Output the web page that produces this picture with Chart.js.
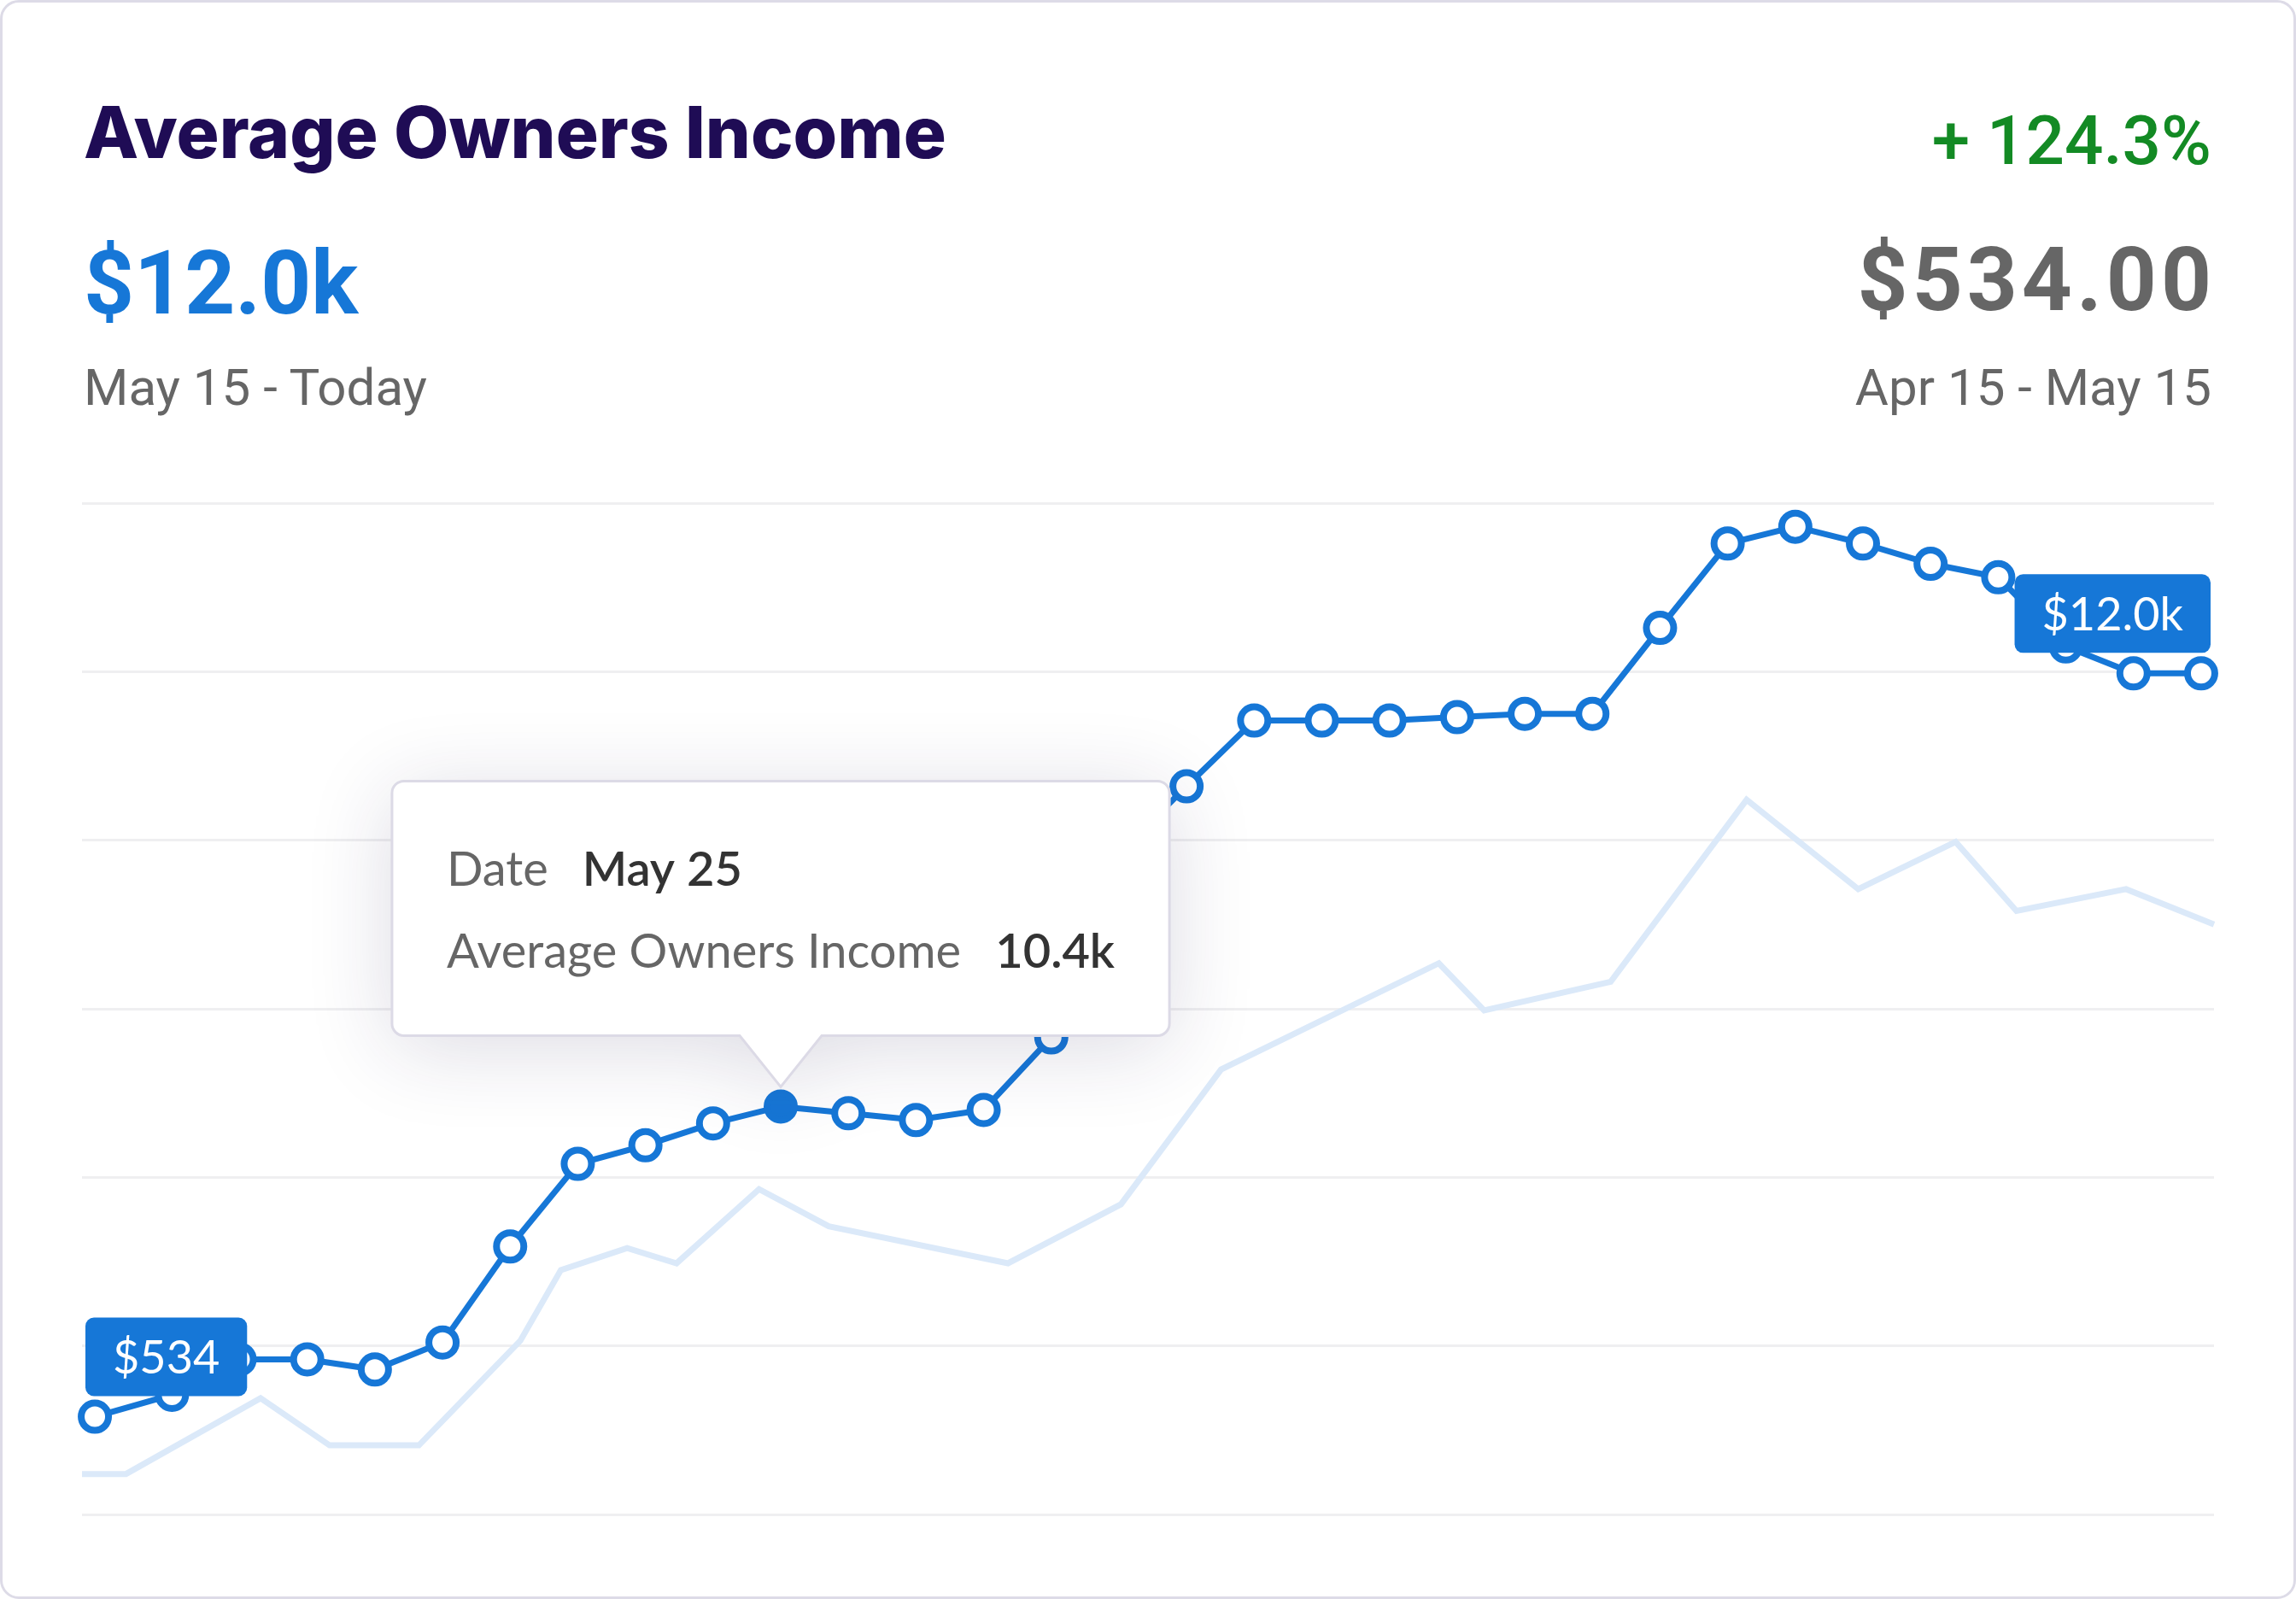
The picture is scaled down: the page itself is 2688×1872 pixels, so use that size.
<!DOCTYPE html>
<html>
<head>
<meta charset="utf-8">
<title>Average Owners Income</title>
<script src="https://cdn.jsdelivr.net/npm/chart.js@4.4.1/dist/chart.umd.min.js"></script>
<style>
  html, body { margin: 0; padding: 0; background: #fff; }
  body { width: 2688px; height: 1872px; position: relative; overflow: hidden; font-family: Roboto, sans-serif; }
  .card { position: absolute; left: 0; top: 0; width: 2688px; height: 1872px; box-sizing: border-box;
          border: 3px solid #dddbe7; border-radius: 22px; pointer-events: none; z-index: 3; }
  .chart-wrap { position: absolute; left: 0; top: 0; width: 2688px; height: 1872px; }
  .txt { position: absolute; line-height: 1; white-space: nowrap; z-index: 2; }
  .title { left: 98px; top: 113px; font-family: Inter, sans-serif; font-weight: 800; font-size: 83.5px; color: #1f0c55; }
  .change { right: 99px; top: 125px; font-weight: 500; font-size: 80px; color: #138a24; }
  .current { left: 98px; top: 280px; font-weight: 700; font-size: 103px; color: #1677d7; }
  .previous { right: 99px; top: 276px; font-weight: 700; font-size: 103px; color: #666666; letter-spacing: 5px; margin-right: -5px; }
  .range { top: 424px; font-weight: 400; font-size: 60px; color: #666666; }
  .range.left { left: 98px; }
  .range.right { right: 99px; }
</style>
</head>
<body>
<div class="card"></div>
<div class="txt title">Average Owners Income</div>
<div class="txt change">+ 124.3%</div>
<div class="txt current">$12.0k</div>
<div class="txt previous">$534.00</div>
<div class="txt range left">May 15 - Today</div>
<div class="txt range right">Apr 15 - May 15</div>
<div class="chart-wrap"><canvas id="incomeChart"></canvas></div>

<script>
// current period, one point per day
const days = [
    'May 15', 'May 16', 'May 17', 'May 18', 'May 19', 'May 20', 'May 21', 'May 22',
    'May 23', 'May 24', 'May 25', 'May 26', 'May 27', 'May 28', 'May 29', 'May 30',
    'May 31', 'Jun 1', 'Jun 2', 'Jun 3', 'Jun 4', 'Jun 5', 'Jun 6', 'Jun 7',
    'Jun 8', 'Jun 9', 'Jun 10', 'Jun 11', 'Jun 12', 'Jun 13', 'Jun 14', 'Jun 15'
];
// day position of each point (the first one sits a little early)
const dayPos = [
    -0.14, 1, 2, 3, 4, 5, 6, 7, 8, 9, 10, 11, 12, 13, 14, 15,
    16, 17, 18, 19, 20, 21, 22, 23, 24, 25, 26, 27, 28, 29, 30, 31
];
const incomeCurrent = [
    5.8, 7.1, 9.2, 9.2, 8.6, 10.2, 15.9, 20.8,
    21.9, 23.2, 24.2, 23.8, 23.4, 24.0, 28.3, 39.2,
    43.2, 47.1, 47.1, 47.1, 47.3, 47.5, 47.5, 52.6,
    57.6, 58.6, 57.6, 56.4, 55.6, 51.5, 49.9, 49.9
];

// previous period (Apr 15 - May 15), plotted on the same day axis
const prevPos = [
    -0.33, 0.32, 2.31, 3.33, 4.65, 6.15, 6.75, 7.73, 8.46, 9.68, 10.71, 13.36,
    15.03, 16.51, 19.73, 20.40, 22.27, 24.28, 25.93, 27.37, 28.27, 29.89, 31.19
];
const incomePrevious = [
    2.4, 2.4, 6.9, 4.1, 4.1, 10.3, 14.5, 15.8, 14.9, 19.3, 17.1, 14.9,
    18.4, 26.4, 32.7, 29.9, 31.6, 42.4, 37.1, 39.9, 35.8, 37.1, 35.0
];

const yTicks = [0, 10, 20, 30, 40, 50, 60];

const ACTIVE_INDEX = 10;
const tooltipRows = [['Date', days[ACTIVE_INDEX]], ['Average Owners Income', '10.4k']];
const startLabel = '$534';
const endLabel = '$12.0k';

const BLUE = '#1677d7';

// blue value boxes above first and last point
const endLabels = {
    id: 'endLabels',
    afterDatasetsDraw(chart) {
        const ctx = chart.ctx;
        const area = chart.chartArea;
        const pts = chart.getDatasetMeta(0).data;
        const items = [[pts[0], startLabel], [pts[pts.length - 1], endLabel]];
        ctx.save();
        ctx.font = '400 54px Lato';
        items.forEach(([p, text]) => {
            const w = ctx.measureText(text).width + 64;
            const h = 92;
            let x = p.x - w / 2;
            x = Math.max(area.left + 4, Math.min(area.right - 4 - w, x));
            const y = p.y - 24 - h;
            ctx.fillStyle = BLUE;
            ctx.beginPath();
            ctx.roundRect(x, y, w, h, 10);
            ctx.fill();
            ctx.fillStyle = '#ffffff';
            ctx.textAlign = 'center';
            ctx.textBaseline = 'middle';
            ctx.fillText(text, x + w / 2, y + h / 2 + 2);
        });
        ctx.restore();
    }
};

// fixed tooltip for the highlighted day
const focusTooltip = {
    id: 'focusTooltip',
    afterDatasetsDraw(chart) {
        const ctx = chart.ctx;
        const p = chart.getDatasetMeta(0).data[ACTIVE_INDEX];
        const padX = 64, gap = 40, r = 14;
        const caretHalf = 48, caretH = 60;
        const fLabel = '400 56px Lato', fValue = '600 56px Lato';

        ctx.save();
        let maxW = 0;
        const widths = tooltipRows.map(([l, v]) => {
            ctx.font = fLabel; const a = ctx.measureText(l).width;
            ctx.font = fValue; const b = ctx.measureText(v).width;
            maxW = Math.max(maxW, a + gap + b);
            return a;
        });
        const w = maxW + padX * 2;
        const h = 298;
        const cx = p.x;
        const bottom = p.y - 23 - caretH;
        const x0 = cx - w / 2, y0 = bottom - h;

        const shape = () => {
            ctx.beginPath();
            ctx.moveTo(x0 + r, y0);
            ctx.lineTo(x0 + w - r, y0);
            ctx.arcTo(x0 + w, y0, x0 + w, y0 + r, r);
            ctx.lineTo(x0 + w, bottom - r);
            ctx.arcTo(x0 + w, bottom, x0 + w - r, bottom, r);
            ctx.lineTo(cx + caretHalf, bottom);
            ctx.lineTo(cx, bottom + caretH);
            ctx.lineTo(cx - caretHalf, bottom);
            ctx.lineTo(x0 + r, bottom);
            ctx.arcTo(x0, bottom, x0, bottom - r, r);
            ctx.lineTo(x0, y0 + r);
            ctx.arcTo(x0, y0, x0 + r, y0, r);
            ctx.closePath();
        };

        ctx.shadowColor = 'rgba(40, 30, 80, 0.16)';
        ctx.shadowBlur = 100;
        ctx.shadowOffsetY = 14;
        shape();
        ctx.fillStyle = '#ffffff';
        ctx.fill();
        ctx.shadowColor = 'transparent';
        ctx.lineWidth = 3;
        ctx.strokeStyle = '#dcdae6';
        shape();
        ctx.stroke();

        ctx.textBaseline = 'alphabetic';
        ctx.textAlign = 'left';
        tooltipRows.forEach(([l, v], i) => {
            const by = y0 + 123 + i * 96;
            ctx.font = fLabel;
            ctx.fillStyle = '#666666';
            ctx.fillText(l, x0 + padX, by);
            ctx.font = fValue;
            ctx.fillStyle = '#333333';
            ctx.fillText(v, x0 + padX + widths[i] + gap, by);
        });
        ctx.restore();
    }
};

const ctx = document.getElementById('incomeChart').getContext('2d');
new Chart(ctx, {
    type: 'line',
    data: {
        datasets: [
            {
                label: 'Average Owners Income',
                data: incomeCurrent.map((v, i) => ({ x: dayPos[i], y: v })),
                borderColor: BLUE,
                borderWidth: 7,
                pointRadius: 16,
                pointBorderWidth: 8,
                pointBorderColor: BLUE,
                pointBackgroundColor: (c) => c.dataIndex === ACTIVE_INDEX ? BLUE : '#ffffff',
                tension: 0,
                clip: false
            },
            {
                label: 'Previous period',
                data: incomePrevious.map((v, i) => ({ x: prevPos[i], y: v })),
                borderColor: '#dbe9f9',
                borderWidth: 7,
                pointRadius: 0,
                tension: 0,
                clip: false
            }
        ]
    },
    options: {
        responsive: true,
        maintainAspectRatio: false,
        animation: false,
        events: [],
        layout: { padding: { left: 96, right: 96, top: 589, bottom: 99 } },
        plugins: {
            legend: { display: false },
            title: { display: false },
            tooltip: { enabled: false }
        },
        scales: {
            x: {
                type: 'linear',
                min: prevPos[0],
                max: prevPos[prevPos.length - 1],
                display: false
            },
            y: {
                min: yTicks[0],
                max: yTicks[yTicks.length - 1],
                afterBuildTicks: (scale) => { scale.ticks = yTicks.map(v => ({ value: v })); },
                ticks: { display: false },
                border: { display: false },
                grid: { color: '#efeff1', lineWidth: 3, drawTicks: false }
            }
        }
    },
    plugins: [endLabels, focusTooltip]
});
</script>
</body>
</html>
